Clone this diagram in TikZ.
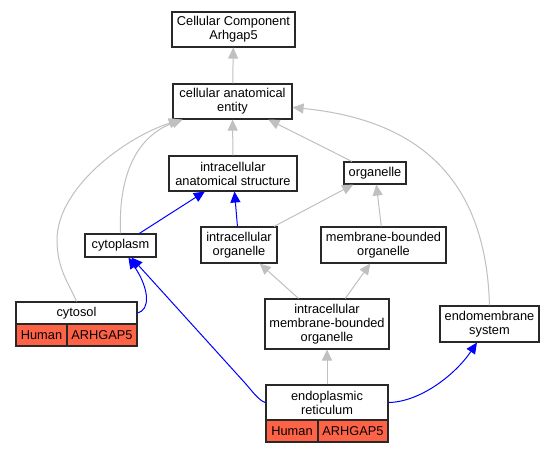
\documentclass[tikz,border=0pt]{standalone}
\usepackage{fontspec}
\setmainfont{Liberation Sans}
\usetikzlibrary{arrows.meta}
\definecolor{edgegray}{RGB}{192,192,192}
\definecolor{tomatored}{RGB}{255,99,71}
\definecolor{boxline}{RGB}{40,40,40}
\begin{document}
\begin{tikzpicture}[x=1pt,y=-1pt,
  box/.style={draw=boxline, line width=1.1pt, fill=white, inner sep=0pt, align=center, font=\fontsize{12.8}{14}\selectfont},
  cell/.style={box, fill=tomatored},
  gedge/.style={draw=edgegray, line width=1pt, -{Triangle[length=11pt,width=10pt]}},
  bedge/.style={draw=blue, line width=1pt, -{Triangle[length=11pt,width=10pt]}},
]
\useasboundingbox[fill=white] (0,0) rectangle (555,453);

\node[box, minimum width=123pt, minimum height=35pt] (cc) at (233.5,29.5) {Cellular Component\\Arhgap5};
\node[box, minimum width=119pt, minimum height=35pt] (cae) at (232.5,101.5) {cellular anatomical\\entity};
\node[box, minimum width=128pt, minimum height=35pt] (ias) at (233,173.5) {intracellular\\anatomical structure};
\node[box, minimum width=62pt, minimum height=22pt] (org) at (375,173) {organelle};
\node[box, minimum width=71pt, minimum height=23pt] (cyto) at (120.5,245.5) {cytoplasm};
\node[box, minimum width=76pt, minimum height=36pt] (io) at (239,245) {intracellular\\organelle};
\node[box, minimum width=125pt, minimum height=36pt] (mbo) at (383.5,245) {membrane-bounded\\organelle};
\node[box, minimum width=121pt, minimum height=22pt] (cytT) at (76.5,313) {cytosol};
\node[cell, minimum width=51pt, minimum height=22pt] (cytH) at (41.5,335) {Human};
\node[cell, minimum width=70pt, minimum height=22pt] (cytA) at (102,335) {ARHGAP5};
\node[box, minimum width=124pt, minimum height=50pt] (imbo) at (327,324) {intracellular\\membrane-bounded\\organelle};
\node[box, minimum width=99pt, minimum height=36pt] (emb) at (489.5,324) {endomembrane\\system};
\node[box, minimum width=122pt, minimum height=35pt] (erT) at (327,402.5) {endoplasmic\\reticulum};
\node[cell, minimum width=52pt, minimum height=22pt] (erH) at (292,431) {Human};
\node[cell, minimum width=70pt, minimum height=22pt] (erA) at (353,431) {ARHGAP5};

% gray edges
\draw[gedge] (cae) -- (cc);
\draw[gedge] (ias) -- (cae);
\draw[gedge] (org) -- (cae);
\draw[gedge] (io) -- (org);
\draw[gedge] (mbo) -- (org);
\draw[gedge] (imbo) -- (io);
\draw[gedge] (imbo) -- (mbo);
\draw[gedge] (erT) -- (imbo);
\draw[gedge] (emb.north) .. controls (486,180) and (420,120) .. (cae);
\draw[gedge] (cyto.north) .. controls (118,170) and (140,135) .. (cae);
\draw[gedge] (cytT.north) .. controls (70,285) and (57,270) .. (57,240) .. controls (57,190) and (120,140) .. (cae);

% blue edges
\draw[bedge] (cyto) -- (ias);
\draw[bedge] (io) -- (ias);
\draw[bedge] (cytT.east) .. controls (150,310) and (150,290) .. (cyto);
\draw[bedge] (erT.west) .. controls (259,401) and (251,389.6) .. (245,383) -- (cyto);
\draw[bedge] (erT.east) .. controls (420,402) and (455,375) .. (emb);
\end{tikzpicture}
\end{document}
